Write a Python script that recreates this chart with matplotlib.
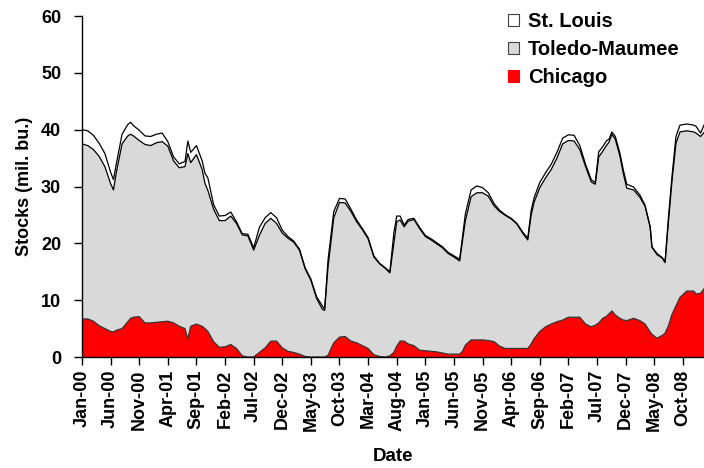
import numpy as np
import matplotlib
matplotlib.use("Agg")
import matplotlib.pyplot as plt
from matplotlib.patches import Patch

plt.rcParams['font.family'] = ['Liberation Sans', 'DejaVu Sans']
plt.rcParams['font.weight'] = 'bold'

# months since Jan-2000
months = [0, 1, 2, 3, 4, 5, 5.5, 6, 7, 8, 8.5, 9, 10, 11, 12, 13, 14, 15, 16, 17, 18, 18.5,
          19, 20, 21, 21.5, 22, 23, 24, 25, 26, 27, 28, 29, 30, 31, 32, 33, 34, 35, 36, 37,
          38, 39, 40, 41, 42, 42.4, 43, 44, 45, 46, 47, 48, 49, 50, 51, 52, 53, 53.8, 54.5,
          55, 55.6, 56.3, 57, 58, 59, 60, 61, 62, 63, 64, 65, 66, 66.5, 67, 68, 69, 70, 71,
          72, 73, 74, 75, 76, 77, 77.9, 78.5, 79, 80, 81, 82, 83, 84, 85, 86, 87, 88, 89,
          89.7, 90.3, 91, 91.7, 92.1, 92.6, 93.2, 94, 94.6, 95.2, 96.4, 97.5, 98.4, 99.3,
          99.6, 100.5, 101.4, 101.9, 102.5, 103.1, 103.8, 104.5, 105.7, 106.9, 107.3,
          108.1, 108.7]

chicago = [6.7, 6.7, 6.3, 5.5, 5.0, 4.5, 4.4, 4.7, 5.0, 6.2, 6.8, 7.0, 7.1, 6.0, 6.0, 6.1, 6.2,
           6.3, 6.0, 5.4, 5.0, 3.2, 5.4, 5.8, 5.4, 5.0, 4.5, 2.7, 1.7, 1.8, 2.2, 1.5, 0.2, 0.0,
           0.0, 0.8, 1.6, 2.8, 2.8, 1.6, 1.0, 0.8, 0.5, 0.1, 0.0, 0.0, 0.0, 0.0, 0.3, 2.5, 3.5,
           3.6, 2.8, 2.5, 2.0, 1.5, 0.4, 0.1, 0.0, 0.2, 0.8, 1.9, 2.8, 2.8, 2.3, 2.0, 1.2, 1.1,
           1.0, 0.9, 0.7, 0.5, 0.5, 0.5, 1.0, 2.1, 3.0, 3.0, 3.0, 2.9, 2.7, 1.9, 1.5, 1.5, 1.5,
           1.5, 1.5, 2.3, 3.2, 4.5, 5.3, 5.8, 6.2, 6.5, 7.0, 7.0, 7.0, 5.8, 5.3, 5.6, 6.0, 6.8,
           7.2, 7.6, 8.1, 7.4, 6.8, 6.5, 6.4, 6.8, 6.4, 5.8, 4.4, 4.0, 3.3, 3.8, 4.2, 5.5, 7.5,
           9.0, 10.5, 11.6, 11.6, 11.1, 11.2, 12.0]

toledo = [30.8, 30.5, 30.2, 29.8, 28.5, 26.0, 25.0, 27.8, 32.5, 32.7, 32.4, 31.9, 31.0, 31.4,
          31.2, 31.6, 31.7, 30.8, 28.5, 27.9, 28.5, 32.6, 28.8, 29.8, 27.6, 25.5, 24.8, 23.3,
          22.3, 22.2, 22.6, 22.0, 21.3, 21.3, 18.8, 20.6, 21.9, 21.6, 20.7, 20.2, 19.9, 19.4,
          18.3, 15.4, 13.5, 10.3, 8.4, 8.2, 15.6, 22.0, 23.7, 23.5, 22.8, 21.3, 20.4, 19.3,
          17.2, 16.3, 15.6, 14.6, 19.2, 21.9, 21.3, 20.1, 21.6, 22.2, 21.4, 20.1, 19.6, 19.0,
          18.5, 17.7, 17.1, 16.4, 19.5, 21.9, 25.2, 25.9, 25.9, 25.4, 23.9, 23.7, 23.4, 22.8,
          21.9, 20.3, 19.1, 22.7, 24.0, 25.3, 26.2, 27.2, 28.8, 31.0, 31.1, 31.0, 29.5, 27.7,
          25.5, 24.8, 29.2, 29.4, 30.1, 30.2, 31.1, 30.9, 28.6, 25.8, 23.3, 22.6, 21.7, 20.7,
          18.4, 15.3, 14.7, 13.6, 12.4, 18.5, 23.4, 28.6, 29.1, 28.2, 28.0, 28.3, 27.6, 27.5]

st_louis = [2.5, 2.6, 2.5, 2.3, 2.3, 2.0, 1.8, 1.5, 1.7, 2.0, 2.1, 1.8, 1.8, 1.5, 1.6, 1.5,
            1.5, 0.8, 0.7, 0.7, 0.9, 2.2, 1.8, 1.6, 1.5, 1.8, 2.2, 0.8, 0.8, 0.9, 0.7, 0.3,
            0.2, 0.3, 0.4, 1.4, 1.0, 1.0, 1.0, 0.5, 0.3, 0.2, 0.2, 0.2, 0.2, 0.3, 0.6, 0.2,
            1.2, 1.1, 0.7, 0.7, 0.4, 0.3, 0.2, 0.2, 0.2, 0.1, 0.1, 0.2, 1.8, 1.0, 0.7, 0.3,
            0.3, 0.2, 0.2, 0.2, 0.2, 0.2, 0.2, 0.2, 0.2, 0.3, 0.7, 1.2, 1.2, 1.2, 0.9, 0.6,
            0.4, 0.2, 0.1, 0.1, 0.1, 0.2, 0.3, 0.8, 0.8, 0.9, 0.9, 0.9, 1.0, 1.0, 1.0, 1.0,
            0.7, 0.4, 0.4, 0.3, 0.9, 0.8, 0.8, 0.5, 0.4, 0.5, 0.5, 0.6, 0.7, 0.5, 0.4, 0.2,
            0.1, 0.1, 0.2, 0.1, 0.2, 0.7, 0.8, 1.2, 1.2, 1.2, 1.2, 1.2, 0.6, 1.3]

series_names = ["Chicago", "Toledo-Maumee", "St. Louis"]
tick_months = [0, 5, 10, 15, 20, 25, 30, 35, 40, 45, 50, 55, 60, 65, 70, 75, 80, 85, 90, 95, 100, 105]
tick_labels = ["Jan-00", "Jun-00", "Nov-00", "Apr-01", "Sep-01", "Feb-02", "Jul-02", "Dec-02",
               "May-03", "Oct-03", "Mar-04", "Aug-04", "Jan-05", "Jun-05", "Nov-05", "Apr-06",
               "Sep-06", "Feb-07", "Jul-07", "Dec-07", "May-08", "Oct-08"]

colors = ["#FF0000", "#D9D9D9", "#FFFFFF"]
edge_colors = ["#333333", "#000000", "#000000"]

fig = plt.figure(figsize=(7.04, 4.68), dpi=100)
ax = fig.add_axes([82 / 704, (468 - 357) / 468, (704 - 82) / 704, (357 - 16) / 468])

x = np.array(months)
ys = np.vstack([chicago, toledo, st_louis])
ax.stackplot(x, ys, colors=colors, linewidth=0)
tops = np.cumsum(ys, axis=0)
for top, ec in zip(tops, edge_colors):
    ax.plot(x, top, color=ec, linewidth=0.9)

ax.set_xlim(0, 108.7)
ax.set_ylim(0, 60)
ax.set_yticks(range(0, 61, 10))
ax.set_xticks(tick_months)
ax.set_xticklabels(tick_labels, rotation=90)
for s in ["top", "right"]:
    ax.spines[s].set_visible(False)
ax.spines["left"].set_linewidth(1.0)
ax.spines["bottom"].set_linewidth(1.0)
ax.tick_params(axis="both", direction="out", length=6, width=1.0, labelsize=13)
ax.tick_params(axis="x", pad=3)
ax.tick_params(axis="y", pad=9)
for lbl in ax.get_xticklabels() + ax.get_yticklabels():
    lbl.set_fontweight("bold")

ax.set_xlabel("Date", fontsize=13.5, fontweight="bold", labelpad=12)
ax.set_ylabel("Stocks (mil. bu.)", fontsize=13, fontweight="bold", labelpad=6)

handles = [Patch(facecolor=colors[i], edgecolor=("#FF0000" if i == 0 else "#404040"),
                 linewidth=0.8, label=series_names[i]) for i in [2, 1, 0]]
leg = fig.legend(handles=handles, loc="upper left", bbox_to_anchor=(508 / 704, 1 - 12 / 468),
                 bbox_transform=fig.transFigure, borderpad=0, borderaxespad=0,
                 frameon=False, prop={"size": 14.5, "weight": "bold"},
                 handlelength=0.55, handleheight=0.55, handletextpad=0.45, labelspacing=0.45)

fig.savefig("out.png", dpi=100)
